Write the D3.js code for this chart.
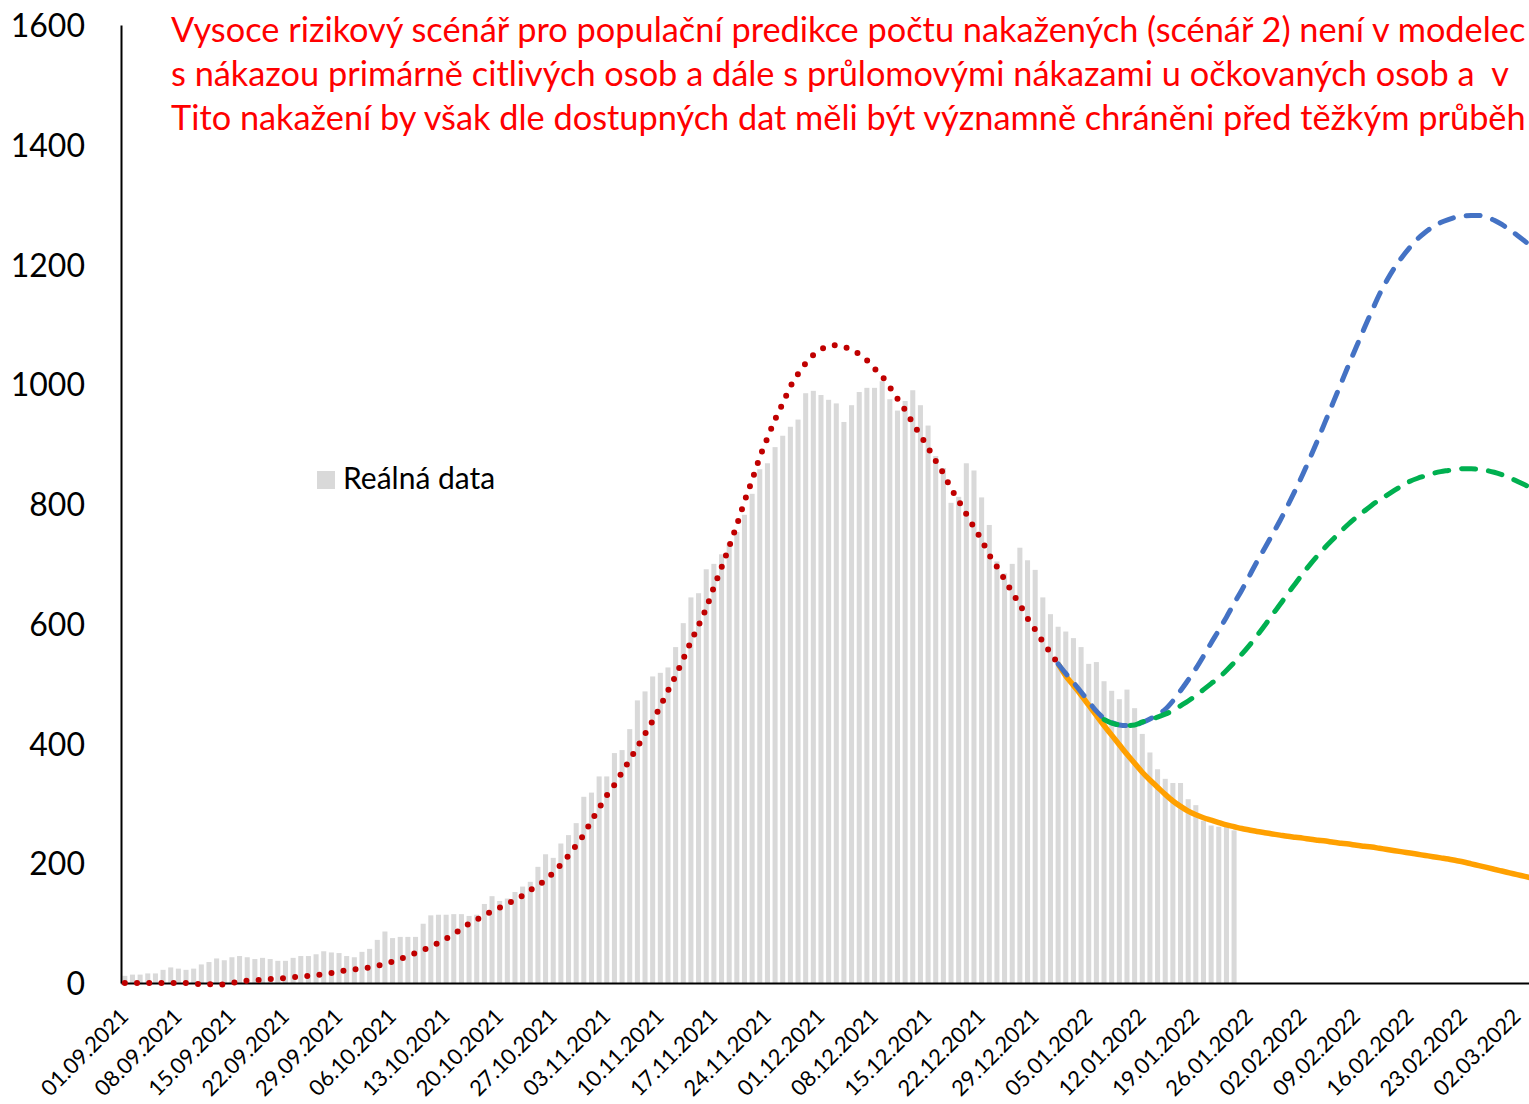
<!DOCTYPE html>
<html>
<head>
<meta charset="utf-8">
<script src="https://cdn.jsdelivr.net/npm/d3@7"></script>
<style>
  html, body { margin: 0; padding: 0; background: #fff; overflow: hidden; }
  svg { display: block; overflow: hidden; }
  text { font-family: Lato, "Open Sans", sans-serif; }
</style>
</head>
<body>
<svg id="chart" width="1529" height="1104"></svg>
<script>
// ---------------- DATA ----------------
const startDay = new Date(2021, 8, 1);       // 01.09.2021 = category 0
const categoryCount = 192;                   // daily categories shown on the axis

const tickLabels = ["01.09.2021","08.09.2021","15.09.2021","22.09.2021","29.09.2021",
  "06.10.2021","13.10.2021","20.10.2021","27.10.2021","03.11.2021","10.11.2021",
  "17.11.2021","24.11.2021","01.12.2021","08.12.2021","15.12.2021","22.12.2021",
  "29.12.2021","05.01.2022","12.01.2022","19.01.2022","26.01.2022","02.02.2022",
  "09.02.2022","16.02.2022","23.02.2022","02.03.2022"];

const yTicks = [0, 200, 400, 600, 800, 1000, 1200, 1400, 1600];

// Reálná data (daily, from 01.09.2021)
const realData = [12,14,14,16,16,22,26,24,22,24,31,35,41,38,43,45,43,40,42,40,
  37,37,42,45,45,48,53,51,50,45,43,52,57,72,86,75,77,77,77,99,
  113,114,114,115,115,112,114,132,145,137,141,152,161,169,194,215,209,233,247,267,
  311,318,345,345,384,389,424,472,487,512,518,527,561,601,644,651,691,700,716,735,
  753,782,817,858,868,895,914,929,941,985,989,982,974,968,937,965,987,994,994,1005,
  975,956,972,990,965,931,880,860,802,812,868,856,811,765,704,684,700,727,706,690,
  644,616,595,587,576,561,533,536,504,488,474,490,459,416,385,357,341,334,334,307,
  297,271,263,261,261,255];

// Model fit (red dotted), from 01.09.2021
const modelFit = [0,0,0,0,0,0,0,0,0,-1,-2,-2,-3,-2,0,2,4,4.5,5.5,6.7,
  7.5,8.2,9.5,10.7,12,13.3,14.7,16.5,19.5,21.3,22.5,24.3,26,28.8,32,35.8,40,45,50,55,
  61,67,74,82,90,99,106,113,120,126,132,139,146,155,163,172,184,198,213,230,
  248,271,292,313,331,352,373,394,416,438,462,488,513,541,570,597,626,661,694,729,
  765,804,840,878,910,941,968,996,1017,1035,1049,1058,1064,1065,1062,1058,1050,1040,1026,1013,
  995,976,957,935,915,894,872,851,826,805,783,761,740,715,695,674,652,632,609,590,
  570,551,533];

// Scenario curves
const scenarioStart = 122;                  // category index where orange & blue begin
const orangeScenario = [533,513,497,481,464,447,430,414,398,382,367,352,339,327,315,304,295,287,281,276,
  272,268,264,261,258,255.5,253,251,249,247,245,243.5,242,240,238.5,237,235,233.5,232,230,
  228.5,227,225,223,221,219,217,215,213,211,209,207,204.5,202,199,196,193,190,187,184,
  181,178,175];
const blueScenario = [533,517,502,486,470,454,442,435,431,430,431,435,441,448,457,471,488,506,525,546,
  568,589,611,634,656,680,704,726,749,772,797,823,850,879,909,940,971,1002,1033,1063,
  1093,1122,1150,1174,1195,1213,1229,1243,1254,1263,1270,1275,1279,1281,1282,1282,1279,1274,1267,1258,
  1249,1239,1228];
const greenStart = 128;
const greenScenario = [440,434,431,430,431,436,440,444,449,455,463,471,480,490,500,510,522,535,549,564,
  580,597,615,632,650,667,684,700,715,729,742,755,767,778,788,798,807,815,823,831,
  838,843,847,851,854,856,858,859,859,858,856,853,849,844,838,832,826];

// Title as visible in the reference (the source picture cuts it at its right edge)
const titleLines = [
  "Vysoce rizikový scénář pro populační predikce počtu nakažených (scénář 2) není v modelec",
  "s nákazou primárně citlivých osob a dále s průlomovými nákazami u očkovaných osob a  v",
  "Tito nakažení by však dle dostupných dat měli být významně chráněni před těžkým průběh"
];
const legendLabel = "Reálná data";

// ---------------- CHART ----------------
const fmt = d3.timeFormat("%d.%m.%Y");
const categories = d3.range(categoryCount).map(i => fmt(d3.timeDay.offset(startDay, i)));

const W = 1529;
const svg = d3.select("#chart");
const plotLeft = 121, plotBottom = 983, plotTop = 25, step = 7.65;

const x = d3.scaleBand()
  .domain(d3.range(categoryCount))
  .range([plotLeft, plotLeft + step * categoryCount])
  .paddingInner(0.34)
  .paddingOuter(0.17);
const bw = x.bandwidth();
const xc = i => x(i) + bw / 2;

const y = d3.scaleLinear().domain([0, 1600]).range([plotBottom, plotTop]);

// bars
svg.append("g").selectAll("rect")
  .data(realData)
  .join("rect")
  .attr("x", (d, i) => x(i))
  .attr("width", bw)
  .attr("y", d => y(d))
  .attr("height", d => y(0) - y(d))
  .attr("fill", "#d9d9d9");

// axes
const yAxis = svg.append("g")
  .attr("transform", `translate(${plotLeft},0)`)
  .call(d3.axisLeft(y).tickValues(yTicks).tickSize(0).tickSizeOuter(0).tickPadding(36).tickFormat(d3.format("d")));
yAxis.select(".domain").attr("stroke", "#000").attr("stroke-width", 2);
yAxis.selectAll("text").attr("font-family", "Lato").attr("font-size", 32).attr("fill", "#000").attr("dy", "0.36em");

const tickIdx = tickLabels.map(l => categories.indexOf(l));
const xAxis = svg.append("g")
  .attr("transform", `translate(0,${plotBottom})`)
  .call(d3.axisBottom(x).tickValues(tickIdx).tickSize(0).tickSizeOuter(0).tickFormat(i => categories[i]));
xAxis.select(".domain").attr("stroke", "#000").attr("stroke-width", 2);
xAxis.selectAll("text")
  .attr("font-family", "Lato").attr("font-size", 22).attr("fill", "#000")
  .attr("x", 0).attr("y", 0).attr("dy", 0)
  .attr("text-anchor", "end")
  .attr("transform", "translate(5,35) rotate(-45)");

// lines
const line = d3.line().x(d => xc(d.i)).y(d => y(d.v)).curve(d3.curveMonotoneX);
const toPts = (arr, start) => arr.map((v, k) => ({ i: start + k, v }));

svg.append("path").datum(toPts(modelFit, 0)).attr("d", line)
  .attr("fill", "none").attr("stroke", "#c00000").attr("stroke-width", 6)
  .attr("stroke-linecap", "round").attr("stroke-dasharray", "0 12.2");

svg.append("path").datum(toPts(orangeScenario, scenarioStart)).attr("d", line)
  .attr("fill", "none").attr("stroke", "#ffa000").attr("stroke-width", 5.5);

svg.append("path").datum(toPts(blueScenario, scenarioStart)).attr("d", line)
  .attr("fill", "none").attr("stroke", "#4472c4").attr("stroke-width", 5)
  .attr("stroke-linecap", "round").attr("stroke-dasharray", "14 13");

svg.append("path").datum(toPts(greenScenario, greenStart)).attr("d", line)
  .attr("fill", "none").attr("stroke", "#00b050").attr("stroke-width", 5)
  .attr("stroke-linecap", "round").attr("stroke-dasharray", "14 13");

// legend
svg.append("rect").attr("x", 317).attr("y", 471).attr("width", 18).attr("height", 18).attr("fill", "#d9d9d9");
svg.append("text").attr("x", 343).attr("y", 489).attr("font-size", 30).attr("fill", "#000").text(legendLabel);

// title (fit inside the picture's right edge)
const titleX = 171;
const title = svg.append("g").selectAll("text")
  .data(titleLines)
  .join("text")
  .attr("x", titleX)
  .attr("y", (d, i) => 41.5 + i * 44)
  .attr("font-size", 34.4)
  .attr("fill", "#ff0000")
  .style("white-space", "pre")
  .text(d => d);
const maxLen = d3.max(title.nodes(), n => n.getComputedTextLength());
const avail = W - 3 - titleX;
if (maxLen > avail) title.attr("font-size", 34.4 * avail / maxLen);
</script>
</body>
</html>
